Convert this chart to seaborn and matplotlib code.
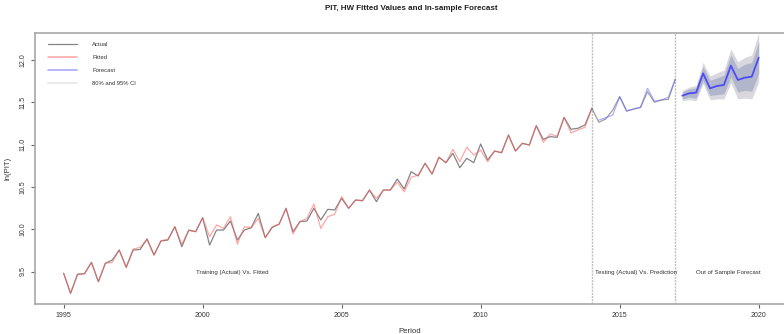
import numpy as np
import pandas as pd
import matplotlib
matplotlib.use("Agg")
import matplotlib.pyplot as plt
import seaborn as sns
from matplotlib.lines import Line2D

# ---------------- data (ln PIT, quarterly from 1995 Q1) ----------------
start_year = 1995
actual_train = [9.479, 9.242, 9.467, 9.474, 9.608, 9.380, 9.597, 9.636, 9.754, 9.549,
                9.754, 9.760, 9.884, 9.695, 9.860, 9.872, 10.030, 9.793, 9.990, 9.971,
                10.136, 9.813, 9.990, 9.990, 10.097, 9.872, 9.990, 10.018, 10.187, 9.900,
                10.020, 10.060, 10.247, 9.971, 10.090, 10.097, 10.247, 10.109, 10.235, 10.227,
                10.365, 10.247, 10.345, 10.337, 10.463, 10.326, 10.463, 10.463, 10.593, 10.475,
                10.680, 10.629, 10.779, 10.652, 10.850, 10.786, 10.897, 10.727, 10.838, 10.786,
                11.007, 10.818, 10.924, 10.904, 11.113, 10.924, 11.015, 10.995, 11.223, 11.062,
                11.094, 11.086, 11.322, 11.181, 11.193, 11.232, 11.429]
fitted_train = [9.479, 9.242, 9.467, 9.474, 9.608, 9.380, 9.597, 9.608, 9.754, 9.549,
                9.765, 9.785, 9.884, 9.695, 9.865, 9.880, 10.030, 9.822, 9.985, 9.971,
                10.136, 9.911, 10.050, 10.010, 10.148, 9.825, 10.030, 10.018, 10.128, 9.900,
                10.030, 10.060, 10.247, 9.943, 10.090, 10.128, 10.298, 10.010, 10.148, 10.176,
                10.385, 10.247, 10.345, 10.337, 10.463, 10.365, 10.463, 10.463, 10.554, 10.443,
                10.613, 10.640, 10.779, 10.652, 10.850, 10.786, 10.944, 10.798, 10.968, 10.877,
                10.936, 10.798, 10.924, 10.904, 11.113, 10.924, 11.015, 10.995, 11.223, 11.027,
                11.125, 11.100, 11.322, 11.140, 11.173, 11.204, 11.429]
# testing period (2014 Q1 .. 2017 Q1)
actual_test = [11.429, 11.264, 11.303, 11.409, 11.566, 11.397, 11.420, 11.440, 11.625,
               11.500, 11.527, 11.535, 11.772]
# in-sample prediction (2014 Q2 .. 2017 Q1)
pred_test = [11.290, 11.318, 11.350, 11.566, 11.397, 11.420, 11.440, 11.665,
             11.515, 11.527, 11.560, 11.772]
# out-of-sample forecast (2017 Q2 .. 2020 Q1)
forecast = [11.578, 11.606, 11.614, 11.842, 11.665, 11.693, 11.705, 11.933,
            11.764, 11.791, 11.803, 12.027]
lo80 = [11.54, 11.56, 11.55, 11.76, 11.58, 11.59, 11.60, 11.80, 11.62, 11.64, 11.63, 11.84]
hi80 = [11.62, 11.66, 11.67, 11.92, 11.76, 11.79, 11.82, 12.06, 11.90, 11.95, 11.97, 12.22]
lo95 = [11.52, 11.53, 11.52, 11.72, 11.53, 11.54, 11.54, 11.73, 11.54, 11.55, 11.54, 11.74]
hi95 = [11.64, 11.68, 11.70, 11.97, 11.81, 11.85, 11.88, 12.13, 11.98, 12.03, 12.06, 12.32]

split_lines = [2014.0, 2017.0]
x_ticks = [1995, 2000, 2005, 2010, 2015, 2020]
y_ticks = [9.5, 10.0, 10.5, 11.0, 11.5, 12.0]
region_labels = ["Training (Actual) Vs. Fitted", "Testing (Actual) Vs. Prediction",
                 "Out of Sample Forecast"]
region_x = [2001.05, 2015.6, 2018.9]

# ---------------- time index ----------------
t_train = start_year + np.arange(len(actual_train)) / 4
t_test = t_train[-1] + np.arange(len(actual_test)) / 4
t_pred = t_test[1:]
t_fc = t_test[-1] + (1 + np.arange(len(forecast))) / 4

df_train = pd.DataFrame({"Period": t_train, "Actual": actual_train, "Fitted": fitted_train})
df_test = pd.DataFrame({"Period": t_test, "Actual": actual_test})
df_pred = pd.DataFrame({"Period": t_pred, "Forecast": pred_test})
df_fc = pd.DataFrame({"Period": t_fc, "Forecast": forecast, "lo80": lo80, "hi80": hi80,
                      "lo95": lo95, "hi95": hi95})

# ---------------- plot ----------------
sns.set_style("ticks")
plt.rcParams["font.family"] = ["Liberation Sans", "DejaVu Sans"]

fig = plt.figure(figsize=(7.84, 3.34), dpi=100)
ax = fig.add_axes([35 / 784, 1 - 304 / 334, 1 - 35 / 784, (304 - 33) / 334])

ax.fill_between(df_fc["Period"], df_fc["lo95"], df_fc["hi95"], color="#d8d8de", lw=0, zorder=1)
ax.fill_between(df_fc["Period"], df_fc["lo80"], df_fc["hi80"], color="#b2b6ca", lw=0, zorder=2)

sns.lineplot(data=df_train, x="Period", y="Actual", ax=ax, color="#505050", lw=0.9, alpha=0.7, zorder=3)
sns.lineplot(data=df_train, x="Period", y="Fitted", ax=ax, color="#ff6060", lw=0.9, alpha=0.55, zorder=4)
sns.lineplot(data=df_test, x="Period", y="Actual", ax=ax, color="#505050", lw=0.9, alpha=0.55, zorder=3)
sns.lineplot(data=df_pred, x="Period", y="Forecast", ax=ax, color="#6a6aff", lw=0.9, alpha=0.55, zorder=4)
sns.lineplot(data=df_fc, x="Period", y="Forecast", ax=ax, color="#3a3aff", lw=1.3, alpha=0.85, zorder=5)

for xv in split_lines:
    ax.axvline(xv, color="#c0c0c0", lw=1.0, ls=(0, (1.5, 0.8)), zorder=0)

for lab, xv in zip(region_labels, region_x):
    ax.text(xv, 9.494, lab, fontsize=4.4, color="#333333", ha="center", va="center")

ax.set_xlim(1993.97, 2020.91)
ax.set_ylim(9.116, 12.319)
ax.set_xticks(x_ticks)
ax.set_yticks(y_ticks)
ax.set_yticklabels([f"{v:.1f}" for v in y_ticks], rotation=90, va="center")
ax.tick_params(axis="both", labelsize=5.0, length=3, width=0.8, color="#666666",
               labelcolor="#333333", pad=3)
ax.set_xlabel("Period", fontsize=5.6, color="#333333", labelpad=6)
ax.set_ylabel("ln(PIT)", fontsize=5.6, color="#333333", labelpad=6)
for side in ["left", "bottom", "top"]:
    ax.spines[side].set_color("#a8a8a8")
    ax.spines[side].set_linewidth(1.2)
ax.spines["right"].set_visible(False)

fig.text(0.525, 1 - 9 / 334, "PIT, HW Fitted Values and In-sample Forecast", fontsize=5.8,
         fontweight="bold", ha="center", va="center", color="#222222")

# legend
handles = [Line2D([], [], color="#505050", lw=0.9, alpha=0.7),
           Line2D([], [], color="#ff7070", lw=1.2, alpha=0.6),
           Line2D([], [], color="#7070ff", lw=1.2, alpha=0.6),
           Line2D([], [], color="#e6e6e6", lw=1.2)]
ax.legend(handles, ["Actual", "Fitted", "Forecast", "80% and 95% CI"], loc="upper left",
          bbox_to_anchor=(0.01, 0.985), frameon=False, fontsize=4.2, handlelength=5.0,
          handletextpad=2.6, labelspacing=1.35, labelcolor="#333333")

fig.savefig("out.png", dpi=100)
